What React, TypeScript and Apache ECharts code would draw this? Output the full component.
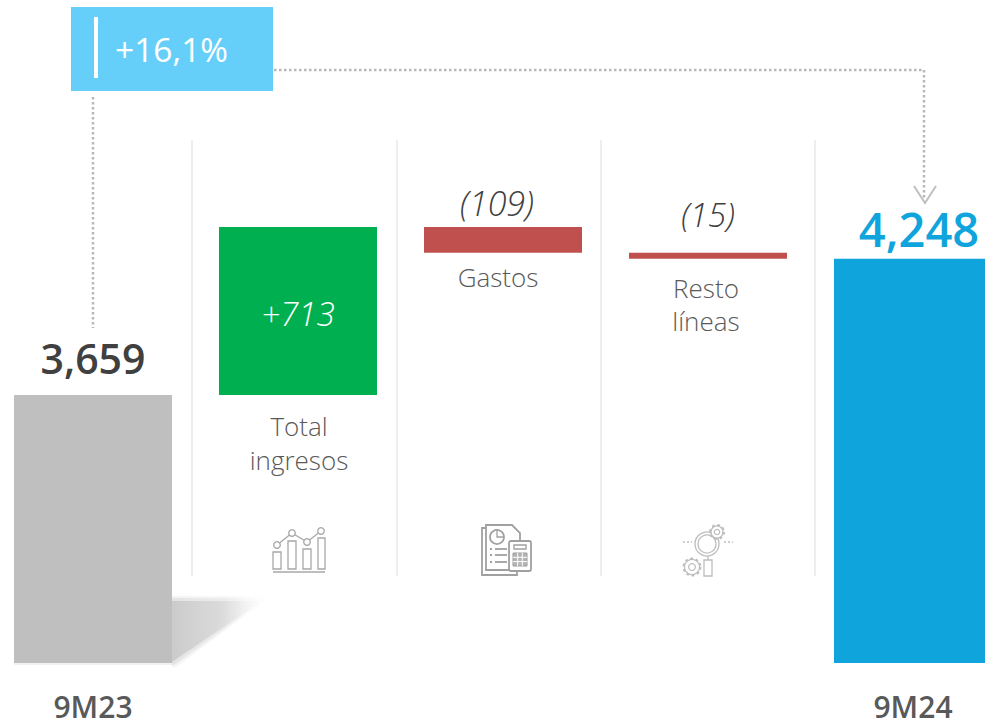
import React, { useEffect, useRef } from "react";
import * as echarts from "echarts";

const categories = ["9M23", "Total ingresos", "Gastos", "Resto líneas", "9M24"];
const axisLabels = ["9M23", "", "", "", "9M24"];
const valueLabels = ["3,659", "+713", "(109)", "(15)", "4,248"];
// The source is not drawn strictly to scale: the levels below are read from the bars' height in the picture.
const barBases = [0, 3659, 4263, 4237, 0];
const barHeights = [3659, 713, 109, 26, 4237];
const barColors = ["#BFBFBF", "#00B050", "#C0504D", "#C0504D", "#0FA5DC"];
const growthLabel = "+16,1%";

const SANS = '"Open Sans", "Noto Sans", sans-serif';

const iconStroke = (stroke: string, lineWidth: number) => ({ fill: "none", stroke, lineWidth });

function caption(text: string, x: number, y: number) {
  return {
    type: "text", x, y, z: 5,
    style: { text, fill: "#595959", font: `300 26px ${SANS}`, textAlign: "center", textVerticalAlign: "middle" },
  };
}

function separator(x: number) {
  return { type: "line", z: 1, shape: { x1: x, y1: 140, x2: x, y2: 576 }, style: { stroke: "#EEEEEE", lineWidth: 2 } };
}

function dotted(points: number[][]) {
  return { type: "polyline", z: 2, shape: { points }, style: { fill: "none", stroke: "#B8B8B8", lineWidth: 2.5, lineDash: [2.5, 2.5] } };
}

function chartIcon() {
  const s = iconStroke("#A8A8A8", 1.3);
  const bars = [[273, 552, 8, 17], [288, 541, 8, 28], [303, 549, 8, 20], [318, 538, 7, 31]];
  const dots = [[277, 545], [292, 533], [307, 542], [321, 531]];
  return {
    type: "group", z: 3,
    children: [
      ...bars.map(([x, y, width, height]) => ({ type: "rect", shape: { x, y, width, height }, style: s })),
      { type: "line", shape: { x1: 273, y1: 572, x2: 325, y2: 572 }, style: s },
      { type: "polyline", shape: { points: dots }, style: s },
      ...dots.map(([cx, cy]) => ({ type: "circle", shape: { cx, cy, r: 3.3 }, style: { fill: "#fff", stroke: "#A8A8A8", lineWidth: 1.3 } })),
    ],
  };
}

function docIcon() {
  const s = iconStroke("#A0A0A0", 1.8);
  const thin = iconStroke("#A0A0A0", 1.3);
  const listY = [549, 555, 562];
  return {
    type: "group", z: 3,
    children: [
      { type: "polyline", shape: { points: [[486, 528], [482, 528], [482, 575], [517, 575], [517, 571]] }, style: s },
      { type: "polyline", shape: { points: [[509, 570], [486, 570], [486, 525], [512, 525], [520, 533], [520, 541]] }, style: s },
      { type: "circle", shape: { cx: 497, cy: 537, r: 7 }, style: s },
      { type: "polyline", shape: { points: [[497, 530], [497, 537], [504, 537]] }, style: thin },
      ...listY.map((y) => ({ type: "line", shape: { x1: 495, y1: y, x2: 507, y2: y }, style: s })),
      ...listY.map((y) => ({ type: "line", shape: { x1: 490, y1: y, x2: 492, y2: y }, style: s })),
      { type: "rect", shape: { x: 509, y: 541, width: 22, height: 30, r: 2 }, style: { fill: "#fff", stroke: "#A0A0A0", lineWidth: 1.8 } },
      { type: "rect", shape: { x: 514, y: 545, width: 12, height: 4 }, style: thin },
      { type: "rect", shape: { x: 513, y: 553, width: 14, height: 13 }, style: { fill: "#B5B5B5", stroke: "#A0A0A0", lineWidth: 1 } },
      ...[517.7, 522.3].map((x) => ({ type: "line", shape: { x1: x, y1: 553, x2: x, y2: 566 }, style: { stroke: "#fff", lineWidth: 1 } })),
      ...[557.3, 561.6].map((y) => ({ type: "line", shape: { x1: 513, y1: y, x2: 527, y2: y }, style: { stroke: "#fff", lineWidth: 1 } })),
    ],
  };
}

function gear(cx: number, cy: number, r: number) {
  return [
    { type: "circle", shape: { cx, cy, r: r + 0.5 }, style: { fill: "none", stroke: "#BDBDBD", lineWidth: 3, lineDash: [2.5, 2.6] } },
    { type: "circle", shape: { cx, cy, r }, style: { fill: "#fff", stroke: "#BDBDBD", lineWidth: 1.2 } },
    { type: "circle", shape: { cx, cy, r: r * 0.45 }, style: { fill: "#fff", stroke: "#BDBDBD", lineWidth: 1.2 } },
  ];
}

function searchIcon() {
  const s = iconStroke("#BDBDBD", 1.3);
  const dash = { fill: "none", stroke: "#BDBDBD", lineWidth: 1.3, lineDash: [2, 2] };
  return {
    type: "group", z: 3,
    children: [
      { type: "line", shape: { x1: 683, y1: 542, x2: 692, y2: 542 }, style: dash },
      { type: "line", shape: { x1: 724, y1: 542, x2: 733, y2: 542 }, style: dash },
      { type: "circle", shape: { cx: 707, cy: 544, r: 12 }, style: s },
      { type: "circle", shape: { cx: 707, cy: 544, r: 9 }, style: s },
      { type: "rect", shape: { x: 704, y: 560, width: 8, height: 16 }, style: s },
      { type: "line", shape: { x1: 708, y1: 556, x2: 708, y2: 560 }, style: s },
      ...gear(717, 532, 6),
      ...gear(692, 567, 7.5),
    ],
  };
}

function shadowFill(strength: number) {
  return new echarts.graphic.LinearGradient(0, 0, 1, 0, [
    { offset: 0, color: `rgba(190,190,190,${strength})` },
    { offset: 0.55, color: `rgba(205,205,205,${strength * 0.85})` },
    { offset: 1, color: "rgba(235,235,235,0)" },
  ]);
}

export default function App() {
  const ref = useRef<HTMLDivElement>(null);
  useEffect(() => {
    document.body.style.margin = "0";
    const chart = echarts.init(ref.current!, undefined, { renderer: "svg" });
    const valueLabelStyles: any[] = [
      { position: "top", distance: 16, color: "#404040", fontSize: 41, fontWeight: 600 },
      { position: "inside", offset: [0, 3], color: "#fff", fontSize: 33, fontWeight: 300, fontStyle: "italic" },
      { position: "top", distance: 7, offset: [-6, 0], color: "#404040", fontSize: 34, fontWeight: 300, fontStyle: "italic" },
      { position: "top", distance: 22, color: "#404040", fontSize: 33, fontWeight: 300, fontStyle: "italic" },
      { position: "top", distance: 6, offset: [6, 0], color: "#0FA5DC", fontSize: 47, fontWeight: 600 },
    ];
    chart.setOption({
      animation: false,
      grid: { left: -9.5, top: 3, width: 1025, height: 660, outerBoundsMode: "none" },
      xAxis: {
        type: "category",
        data: axisLabels,
        axisLine: { show: false },
        axisTick: { show: false },
        axisLabel: { interval: 0, margin: 28, color: "#595959", fontSize: 30, fontWeight: 600, fontFamily: SANS },
      },
      yAxis: { type: "value", min: 2520, max: 5324, show: false, splitLine: { show: false } },
      series: [
        {
          type: "bar", stack: "w", name: "base", barWidth: 158, silent: true,
          itemStyle: { color: "transparent" },
          data: barBases,
        },
        {
          type: "bar", stack: "w", name: "value", barWidth: 158, z: 4,
          data: barHeights.map((value, i) => ({
            value,
            name: categories[i],
            itemStyle: { color: barColors[i] },
            label: { show: true, formatter: valueLabels[i], fontFamily: SANS, ...valueLabelStyles[i] },
          })),
        },
      ],
      graphic: [
        separator(192), separator(397), separator(601), separator(815),
        { type: "polygon", z: 1, shape: { points: [[172, 596], [272, 596], [176, 667], [172, 667]] }, style: { fill: shadowFill(0.18) } },
        { type: "polygon", z: 1, shape: { points: [[172, 598], [268, 598], [174, 665], [172, 665]] }, style: { fill: shadowFill(0.3) } },
        { type: "polygon", z: 1, shape: { points: [[172, 601], [262, 601], [172, 662]] }, style: { fill: shadowFill(0.65) } },
        { type: "rect", z: 1, shape: { x: 14, y: 663, width: 158, height: 2 }, style: { fill: "#F0F0F0" } },
        { type: "rect", z: 6, shape: { x: 71, y: 7, width: 202, height: 84 }, style: { fill: "#66CFF9" } },
        { type: "rect", z: 7, shape: { x: 94, y: 17, width: 4, height: 61 }, style: { fill: "#fff" } },
        {
          type: "text", z: 7, x: 115, y: 49,
          style: { text: growthLabel, fill: "#fff", font: `500 33.5px ${SANS}`, textAlign: "left", textVerticalAlign: "middle" },
        },
        dotted([[93, 97], [93, 328]]),
        dotted([[274, 70], [924, 70], [924, 200]]),
        { type: "polyline", z: 2, shape: { points: [[914, 186], [925, 203], [936, 186]] }, style: { fill: "none", stroke: "#BFBFBF", lineWidth: 2 } },
        caption("Total", 299, 426),
        caption("ingresos", 299, 460),
        caption("Gastos", 498, 277),
        caption("Resto", 706, 288),
        caption("líneas", 706, 321),
        chartIcon(), docIcon(), searchIcon(),
      ],
    });
    return () => chart.dispose();
  }, []);
  return <div ref={ref} style={{ position: "absolute", left: 0, top: 0, width: 985, height: 724, overflow: "hidden" }} />;
}
